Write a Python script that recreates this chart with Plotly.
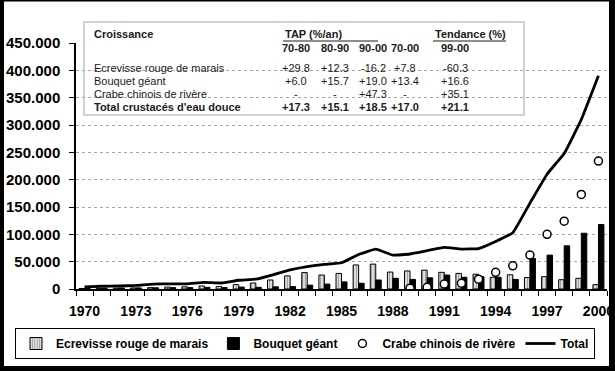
import plotly.graph_objects as go

# ---------------- data ----------------
years = list(range(1970, 2001))

ecrevisse = [1000, 1200, 1500, 2000, 2500, 3500, 4000, 5500, 4500, 8000,
             11000, 16500, 24000, 30000, 25500, 28500, 44000, 45500, 31000, 33000,
             34500, 30500, 28500, 27000, 21500, 26000, 21000, 22500, 17000, 19500,
             8000]
bouquet = [1500, 1500, 1800, 2000, 2200, 2500, 2500, 3000, 2800, 3500,
           3000, 4000, 4500, 7000, 9000, 13000, 10500, 16500, 19500, 17500,
           20500, 25500, 21500, 22500, 21500, 17500, 56000, 62000, 79000, 102000,
           118000]
crabe = [None] * 19 + [1500, 3000, 9000, 10500, 18000, 30500, 42500, 62000,
                       100000, 124000, 173000, 234000]
total = [4000, 5000, 5500, 6500, 9000, 9500, 9500, 12000, 11000, 16000,
         18000, 26000, 35000, 41000, 45000, 48000, 63000, 73000, 62000, 64000,
         70000, 76000, 73000, 74000, 87000, 103000, 157000, 210000, 248000, 310000,
         390000]

x_tick_years = [1970, 1973, 1976, 1979, 1982, 1985, 1988, 1991, 1994, 1997, 2000]
y_ticks = [0, 50000, 100000, 150000, 200000, 250000, 300000, 350000, 400000, 450000]

table_title = "Croissance"
table_group1 = "TAP (%/an)"
table_group2 = "Tendance (%)"
table_cols = ["70-80", "80-90", "90-00", "70-00", "99-00"]
table_rows = ["Ecrevisse rouge de marais", "Bouquet géant",
              "Crabe chinois de rivère", "Total crustacés d'eau douce"]
table_vals = [
    ["+29.8", "+12.3", "-16.2", "+7.8", "-60.3"],
    ["+6.0", "+15.7", "+19.0", "+13.4", "+16.6"],
    ["-", "-", "+47.3", "-", "+35.1"],
    ["+17.3", "+15.1", "+18.5", "+17.0", "+21.1"],
]

# ---------------- layout geometry ----------------
W, H = 615, 371
ML, MR, MT, MB = 76, 8, 43, 82
PW = W - ML - MR
PH = H - MT - MB
Y0 = H - MB


def px(xp):
    return (xp - ML) / PW


def py(yp):
    return (Y0 - yp) / PH


FONT = "Liberation Sans, Arial, Helvetica, sans-serif"

fig = go.Figure()

fig.add_trace(go.Bar(
    x=years, y=ecrevisse, name="Ecrevisse rouge de marais",
    marker=dict(color="#dcdcdc", line=dict(color="black", width=1),
                pattern=dict(shape="|", fgcolor="#6a6a6a", size=3, solidity=0.35)),
))
fig.add_trace(go.Bar(
    x=years, y=bouquet, name="Bouquet géant",
    marker=dict(color="black", line=dict(color="black", width=1)),
))
fig.add_trace(go.Scatter(
    x=years, y=crabe, name="Crabe chinois de rivère", mode="markers",
    marker=dict(symbol="circle", size=8, color="white",
                line=dict(color="black", width=1.5)),
))
fig.add_trace(go.Scatter(
    x=years, y=total, name="Total", mode="lines",
    line=dict(color="black", width=2.8, shape="spline", smoothing=0.3),
))

# ---------------- table annotations ----------------
ann = []
col_x = [296, 335, 373, 405, 455]
row_y = [68, 81, 94, 107]
tcol = "#1a1a1a"
TS = 11

ann.append(dict(x=px(92), y=py(34), text="<b>" + table_title + "</b>",
                xanchor="left", yanchor="middle"))
ann.append(dict(x=px(283), y=py(34), text="<b>" + table_group1 + "</b>",
                xanchor="left", yanchor="middle"))
ann.append(dict(x=px(433), y=py(34), text="<b>" + table_group2 + "</b>",
                xanchor="left", yanchor="middle"))
for c, xc in zip(table_cols, col_x):
    ann.append(dict(x=px(xc), y=py(48), text="<b>" + c + "</b>",
                    xanchor="center", yanchor="middle"))
for i, (r, yr) in enumerate(zip(table_rows, row_y)):
    bold = i == len(table_rows) - 1
    t = "<b>" + r + "</b>" if bold else r
    ann.append(dict(x=px(92), y=py(yr), text=t, xanchor="left", yanchor="middle"))
    for v, xc in zip(table_vals[i], col_x):
        tv = "<b>" + v + "</b>" if bold else v
        ann.append(dict(x=px(xc), y=py(yr), text=tv, xanchor="center",
                        yanchor="middle"))
for a in ann:
    a.update(xref="paper", yref="paper", showarrow=False,
             font=dict(family=FONT, size=TS, color=tcol))

shapes = [
    # table box
    dict(type="rect", xref="paper", yref="paper", x0=px(84), x1=px(524),
         y0=py(115), y1=py(22), line=dict(color="#c4c4c4", width=1.5),
         layer="below"),
    # underlines
    dict(type="line", xref="paper", yref="paper", x0=px(283), x1=px(378),
         y0=py(41), y1=py(41), line=dict(color=tcol, width=1)),
    dict(type="line", xref="paper", yref="paper", x0=px(433), x1=px(506),
         y0=py(41), y1=py(41), line=dict(color=tcol, width=1)),
    # black outer frame
    dict(type="rect", xref="paper", yref="paper", x0=px(0), x1=px(4),
         y0=py(H), y1=py(0), fillcolor="black", line=dict(width=0), layer="above"),
    dict(type="rect", xref="paper", yref="paper", x0=px(0), x1=px(W),
         y0=py(1.5), y1=py(0), fillcolor="black", line=dict(width=0), layer="above"),
    dict(type="rect", xref="paper", yref="paper", x0=px(609), x1=px(W),
         y0=py(H), y1=py(0), fillcolor="black", line=dict(width=0), layer="above"),
    dict(type="rect", xref="paper", yref="paper", x0=px(0), x1=px(W),
         y0=py(H), y1=py(366), fillcolor="black", line=dict(width=0), layer="above"),
]

fig.update_layout(
    width=W, height=H,
    margin=dict(l=ML, r=MR, t=MT, b=MB, pad=0, autoexpand=False),
    paper_bgcolor="white", plot_bgcolor="rgba(0,0,0,0)",
    separators=",.",
    barmode="group", bargap=0.36, bargroupgap=0,
    font=dict(family=FONT, color="black"),
    annotations=ann, shapes=shapes,
    legend=dict(orientation="h", x=px(15), y=py(328), xanchor="left", yanchor="top",
                bordercolor="black", borderwidth=1, bgcolor="white",
                font=dict(family=FONT, size=12, color="black", weight="bold"),
                itemwidth=30, tracegroupgap=0),
    xaxis=dict(range=[1969.5, 2000.5], tickvals=x_tick_years,
               ticktext=[str(y) for y in x_tick_years],
               ticks="", showgrid=False, zeroline=False,
               showline=True, linecolor="black", linewidth=1.5,
               ticklabelstandoff=8,
               tickfont=dict(family=FONT, size=14, color="black", weight="bold"),
               minor=dict(ticks="outside", tick0=1969.5, dtick=1, ticklen=5,
                          tickcolor="black", tickwidth=1, showgrid=False)),
    yaxis=dict(range=[0, 450000], tickvals=y_ticks, tickformat=",.0f",
               ticks="outside", ticklen=5, tickcolor="black",
               showline=True, linecolor="black", linewidth=1.5,
               showgrid=True, gridcolor="#a8a8a8", gridwidth=1, griddash="dot",
               zeroline=False, ticklabelstandoff=6,
               tickfont=dict(family=FONT, size=15, color="black", weight="bold")),
)

fig.write_html("out.html",
               config={"displayModeBar": False},
               post_script="document.body.style.margin='0';"
                           "document.body.style.overflow='hidden';")
